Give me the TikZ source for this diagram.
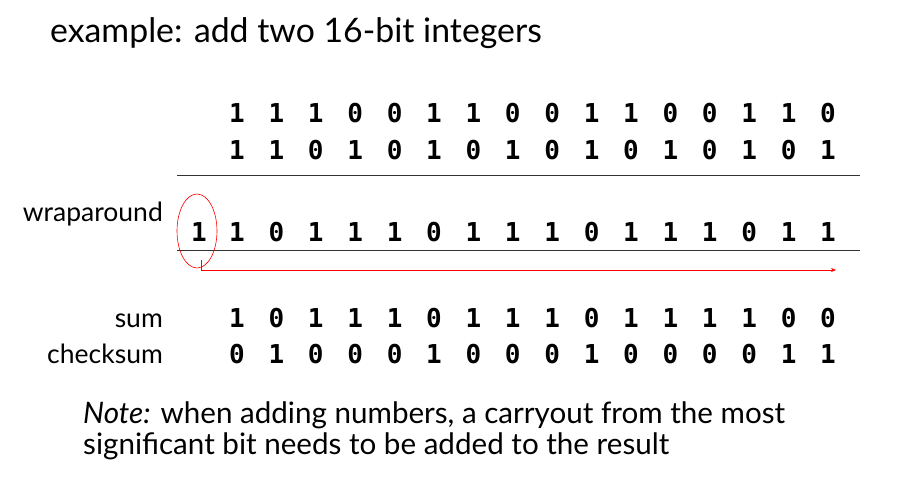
\documentclass[tikz,border=0pt]{standalone}
\usepackage{fontspec}
\setmainfont{Lato}
\newfontfamily\digitfont{DejaVu Sans Mono}[BoldFont={DejaVu Sans Mono Bold}]
\usetikzlibrary{arrows.meta}
\tikzset{
  bit/.style={anchor=base, inner sep=0pt, font=\digitfont\bfseries\fontsize{26}{26}\selectfont},
  lbl/.style={anchor=base east, inner sep=0pt, font=\fontsize{26.5}{26.5}\selectfont},
  rule/.style={line width=1pt, black!80},
  redline/.style={red, line width=0.6pt},
  notetext/.style={anchor=base west, inner sep=0pt, font=\fontsize{29.6}{29.6}\selectfont},
}
\begin{document}
\begin{tikzpicture}[x=1pt,y=-1pt]
\useasboundingbox (0,0) rectangle (910,478);
% title
\node[anchor=base west, inner sep=0pt, font=\fontsize{33.8}{33.8}\selectfont] (title) at (50,43) {example: add two 16-bit integers};
% rows
\foreach \b [count=\i from 0] in {1,1,1,0,0,1,1,0,0,1,1,0,0,1,1,0}
  \node[bit] (ra\i) at (237+39.4*\i,123) {\b};
\foreach \b [count=\i from 0] in {1,1,0,1,0,1,0,1,0,1,0,1,0,1,0,1}
  \node[bit] (rb\i) at (237+39.4*\i,160) {\b};
\draw[rule] (177,176) -- (860,176);
\node[lbl] (wrap) at (163,222) {wraparound};
\node[bit] (carry) at (199,242) {1};
\foreach \b [count=\i from 0] in {1,0,1,1,1,0,1,1,1,0,1,1,1,0,1,1}
  \node[bit] (rc\i) at (237+39.4*\i,242) {\b};
\draw[rule] (177,251) -- (860,251);
\draw[redline] (197,231) ellipse [x radius=20, y radius=37];
\coordinate (arrend) at (836,270);
\draw[redline, -{Stealth[length=5pt,width=4pt]}] (201,260) |- (arrend);
\node[lbl] (sum) at (163,327) {sum};
\foreach \b [count=\i from 0] in {1,0,1,1,1,0,1,1,1,0,1,1,1,1,0,0}
  \node[bit] (rs\i) at (237+39.4*\i,327) {\b};
\node[lbl] (chk) at (163,363) {checksum};
\foreach \b [count=\i from 0] in {0,1,0,0,0,1,0,0,0,1,0,0,0,0,1,1}
  \node[bit] (rk\i) at (237+39.4*\i,363) {\b};
% note
\node[notetext] (note1) at (83,423) {\textit{Note:} when adding numbers, a carryout from the most};
\node[notetext] (note2) at (83,454) {significant bit needs to be added to the result};
\end{tikzpicture}
\end{document}
